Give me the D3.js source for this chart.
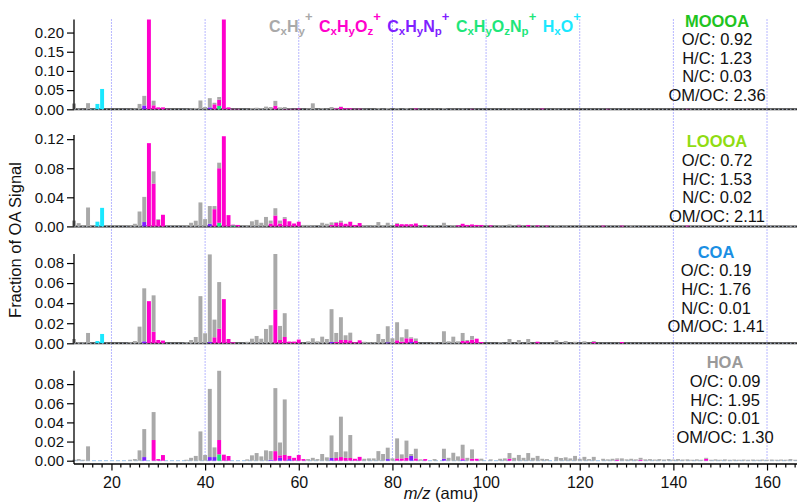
<!DOCTYPE html>
<html>
<head>
<meta charset="utf-8">
<script src="https://cdn.jsdelivr.net/npm/d3@7"></script>
<style>
  body { margin: 0; background: #fff; }
  svg { display: block; font-family: "Liberation Sans", Arial, Helvetica, sans-serif; }
</style>
</head>
<body>
<svg id="chart" width="798" height="504"></svg>
<script>
// ---- Ion families (legend order) and the order they are stacked in (bottom first)
const families = ["CxHy", "CxHyOz", "CxHyNp", "CxHyOzNp", "HxO"];
const stackOrder = ["HxO", "CxHyOzNp", "CxHyNp", "CxHyOz", "CxHy"];
const familyColors = ["#a9a9a9", "#ff00cc", "#7f1fff", "#1ee67a", "#1ae8ff"];

// ---- PMF factor names and elemental ratios
const factorNames = ["MOOOA", "LOOOA", "COA", "HOA"];
const factorColors = ["#1fc41f", "#8fdc12", "#1a8fe3", "#9a9a9a"];
const ratioOC = [0.92, 0.72, 0.19, 0.09];
const ratioHC = [1.23, 1.53, 1.76, 1.95];
const ratioNC = [0.03, 0.02, 0.01, 0.01];
const ratioOMOC = [2.36, 2.11, 1.41, 1.30];

// ---- y-axis tick values per factor
const yTicks = [
  [0, 0.05, 0.10, 0.15, 0.20],
  [0, 0.04, 0.08, 0.12],
  [0, 0.02, 0.04, 0.06, 0.08],
  [0, 0.02, 0.04, 0.06, 0.08]
];
const yMax = [0.234, 0.1257, 0.089, 0.094];
const xMajorTicks = [20, 40, 60, 80, 100, 120, 140, 160];

// ---- Spectra: [m/z, fraction of OA signal] per ion family
const MOOOA_CxHy = [[12,.015],[13,.002],[14,.001],[15,.016],[24,.001],[25,.002],[26,.014],[27,.025],[29,.012],[36,.001],[37,.002],[38,.0035],[39,.023],[40,.006],[41,.024],[42,.004],[43,.007],[49,.001],[50,.003],[51,.004],[52,.003],[53,.007],[54,.006],[55,.013],[56,.005],[57,.005],[58,.001],[62,.002],[63,.0156],[64,.001],[65,.0026],[66,.0015],[67,.006],[68,.001],[69,.001],[74,.001],[77,.0026],[78,.001],[79,.003],[81,.0026],[83,.0026],[89,.001],[91,.0026],[93,.001],[95,.0012],[105,.0012],[107,.001],[115,.001]];
const MOOOA_CxHyOz = [[28,.25],[29,.0104],[30,.005],[31,.005],[32,.001],[42,.013],[43,.016],[44,.25],[45,.005],[46,.001],[47,.001],[55,.009],[57,.001],[58,.001],[59,.001],[60,.002],[68,.0026],[69,.006],[70,.0026],[71,.0026],[72,.001],[73,.0015],[85,.002],[97,.001],[112,.0018],[126,.001],[143,.001]];
const MOOOA_CxHyNp = [[27,.010],[41,.005]];
const MOOOA_CxHyOzNp = [[43,.009]];
const MOOOA_HxO = [[16,.001],[17,.014],[18,.053]];

const LOOOA_CxHy = [[12,.008],[13,.0045],[14,.001],[15,.026],[24,.001],[25,.0036],[26,.0205],[27,.0346],[29,.0168],[30,.001],[36,.001],[37,.005],[38,.0078],[39,.033],[40,.010],[41,.0243],[42,.0043],[43,.0076],[49,.001],[50,.007],[51,.009],[52,.005],[53,.013],[54,.004],[55,.010],[56,.004],[57,.0023],[61,.002],[62,.002],[63,.001],[65,.005],[66,.0036],[67,.0035],[68,.001],[69,.0023],[74,.0018],[75,.001],[76,.0018],[77,.006],[78,.0018],[79,.005],[81,.001],[89,.0014],[91,.005],[93,.0018],[103,.0014],[105,.0027],[107,.001],[115,.0018],[117,.001],[121,.001],[131,.001],[165,.001]];
const LOOOA_CxHyOz = [[28,.1145],[29,.0589],[30,.009],[31,.016],[42,.0237],[43,.075],[44,.124],[45,.0155],[46,.001],[47,.002],[54,.004],[55,.015],[56,.004],[57,.0105],[58,.007],[59,.004],[60,.0064],[67,.002],[68,.005],[69,.0055],[70,.0036],[71,.0064],[72,.002],[73,.0046],[81,.0036],[82,.003],[83,.003],[84,.003],[85,.004],[87,.002],[94,.0014],[95,.0036],[96,.002],[97,.0027],[98,.002],[99,.002],[101,.0014],[107,.0014],[109,.002],[111,.0014],[113,.001],[125,.001],[129,.001],[143,.001]];
const LOOOA_CxHyNp = [[27,.006],[41,.0037]];
const LOOOA_CxHyOzNp = [[43,.005],[46,.0014]];
const LOOOA_HxO = [[17,.0065],[18,.0255]];

const COA_CxHy = [[12,.0043],[13,.001],[14,.001],[15,.0103],[24,.001],[25,.0023],[26,.0166],[27,.0528],[29,.0362],[36,.001],[37,.0033],[38,.0063],[39,.047],[40,.010],[41,.0873],[42,.0176],[43,.0464],[49,.0015],[50,.0046],[51,.0073],[52,.0046],[53,.0143],[54,.018],[55,.056],[56,.014],[57,.0237],[62,.002],[63,.005],[64,.002],[65,.0066],[66,.0043],[67,.0327],[68,.009],[69,.0227],[70,.0047],[71,.0076],[74,.0015],[75,.001],[76,.001],[77,.0093],[78,.0043],[79,.016],[80,.005],[81,.018],[82,.0043],[83,.009],[84,.0012],[85,.0025],[89,.001],[91,.012],[92,.002],[93,.0066],[94,.002],[95,.008],[96,.001],[97,.0037],[103,.001],[105,.0043],[107,.0033],[109,.0043],[115,.003],[117,.0023],[119,.0015],[121,.002],[123,.001]];
const COA_CxHyOz = [[28,.042],[29,.0116],[30,.0033],[31,.0027],[42,.006],[43,.0146],[44,.044],[45,.0043],[46,.001],[55,.0335],[56,.0033],[57,.0063],[58,.0017],[59,.0017],[60,.0037],[68,.0013],[69,.0033],[70,.0033],[71,.003],[72,.001],[73,.003],[81,.003],[82,.0017],[83,.005],[84,.0035],[85,.0023],[95,.0023],[96,.0023],[97,.0036],[98,.0046],[99,.0013],[111,.0016],[123,.0013],[129,.0013]];
const COA_CxHyNp = [[27,.002],[41,.0013],[67,.0013],[79,.001],[84,.0013]];
const COA_CxHyOzNp = [];
const COA_HxO = [[17,.0023],[18,.0093]];

const HOA_CxHy = [[12,.001],[13,.0017],[14,.001],[15,.015],[24,.001],[25,.0017],[26,.0108],[27,.0292],[29,.0292],[36,.001],[37,.003],[38,.005],[39,.0306],[40,.006],[41,.0712],[42,.0101],[43,.073],[49,.0014],[50,.0056],[51,.008],[52,.0045],[53,.0108],[54,.009],[55,.0658],[56,.0134],[57,.058],[62,.0017],[63,.003],[64,.0017],[65,.007],[66,.0035],[67,.0236],[68,.0062],[69,.0422],[70,.0067],[71,.024],[74,.002],[75,.0024],[76,.0024],[77,.010],[78,.007],[79,.0119],[80,.0024],[81,.0209],[82,.0042],[83,.018],[84,.002],[85,.0101],[86,.0014],[89,.0017],[91,.0105],[92,.003],[93,.0083],[94,.0045],[95,.0143],[96,.003],[97,.0098],[99,.0021],[101,.0014],[103,.002],[104,.0024],[105,.006],[106,.003],[107,.006],[108,.003],[109,.008],[110,.003],[111,.005],[112,.002],[113,.0017],[115,.004],[116,.0028],[117,.0035],[118,.0024],[119,.005],[120,.002],[121,.004],[122,.0017],[123,.004],[125,.002],[126,.0014],[127,.002],[128,.0014],[129,.0024],[130,.0014],[131,.002],[132,.0014],[133,.002],[134,.0014],[135,.0017],[136,.0012],[137,.0017],[138,.0012],[139,.0017],[140,.0012],[141,.0017],[142,.0012],[143,.0014],[144,.001],[145,.0014],[146,.001],[147,.001],[148,.001],[149,.0014],[150,.001],[151,.0014],[152,.001],[153,.0012],[154,.001],[155,.0012],[156,.001],[157,.0012],[158,.001],[159,.0012],[160,.001],[161,.0012],[162,.001],[163,.0012],[164,.001],[165,.0017],[166,.001]];
const HOA_CxHyOz = [[29,.0216],[30,.0017],[31,.0059],[43,.015],[44,.0063],[45,.0049],[55,.010],[56,.0026],[57,.006],[58,.0033],[59,.003],[60,.006],[61,.0017],[68,.0028],[69,.0038],[70,.003],[71,.0028],[72,.002],[73,.004],[81,.0024],[82,.0024],[83,.003],[85,.0024],[87,.0017],[95,.0014],[97,.002],[98,.002],[105,.002],[128,.001],[133,.001],[147,.002]];
const HOA_CxHyNp = [[27,.0038],[41,.0038],[42,.0038],[54,.001],[56,.003],[58,.0017],[67,.0028],[79,.0017],[84,.005],[91,.002],[95,.001]];
const HOA_CxHyOzNp = [[43,.0066]];
const HOA_HxO = [];

const spectra = [
  [MOOOA_CxHy, MOOOA_CxHyOz, MOOOA_CxHyNp, MOOOA_CxHyOzNp, MOOOA_HxO],
  [LOOOA_CxHy, LOOOA_CxHyOz, LOOOA_CxHyNp, LOOOA_CxHyOzNp, LOOOA_HxO],
  [COA_CxHy, COA_CxHyOz, COA_CxHyNp, COA_CxHyOzNp, COA_HxO],
  [HOA_CxHy, HOA_CxHyOz, HOA_CxHyNp, HOA_CxHyOzNp, HOA_HxO]
];

// ---- layout
const W = 798, H = 504;
const plotLeft = 74, plotRight = 797;
const panelTop = [19.5, 135, 254, 370.7];
const panelZero = [109.3, 226.4, 343.3, 460.7];
const labelX = [717, 717, 716, 725];
const labelY0 = [26.5, 147.3, 257.7, 368.3];
const labelStep = 18.6;
const xAxisY = 464;

const svg = d3.select("#chart");
const x = d3.scaleLinear().domain([12, 166.4]).range([plotLeft, plotRight]);
const barW = x(0.84) - x(0);
const colorOf = d3.scaleOrdinal().domain(families).range(familyColors);

// vertical dotted guides every 20 amu
svg.append("g").selectAll("line").data(xMajorTicks).join("line")
  .attr("x1", d => x(d)).attr("x2", d => x(d))
  .attr("y1", panelTop[0]).attr("y2", panelZero[3])
  .attr("stroke", "#6f6fff").attr("stroke-width", 1)
  .attr("stroke-dasharray", "1,2");

const defs = svg.append("defs");

factorNames.forEach((name, i) => {
  const y = d3.scaleLinear().domain([0, yMax[i]]).range([panelZero[i], panelTop[i]]);

  // table of m/z rows with one column per ion family
  const rows = d3.range(12, 167).map(mz => {
    const r = { mz };
    families.forEach(f => r[f] = 0);
    return r;
  });
  families.forEach((f, k) => spectra[i][k].forEach(([mz, v]) => { rows[mz - 12][f] = v; }));
  const layers = d3.stack().keys(stackOrder)(rows);

  defs.append("clipPath").attr("id", "clip" + i)
    .append("rect").attr("x", 60).attr("width", W - 60)
    .attr("y", panelTop[i]).attr("height", panelZero[i] - panelTop[i] + 0.5);

  const g = svg.append("g");

  // zero line of the panel
  if (i < 3) {
    g.append("line").attr("x1", plotLeft).attr("x2", plotRight)
      .attr("y1", panelZero[i]).attr("y2", panelZero[i])
      .attr("stroke", "#2b2b2b").attr("stroke-width", 2);
    g.append("line").attr("x1", plotLeft).attr("x2", plotRight)
      .attr("y1", panelZero[i]).attr("y2", panelZero[i])
      .attr("stroke", "#a8b4c8").attr("stroke-width", 1)
      .attr("stroke-dasharray", "1.5,2.5");
  } else {
    g.append("line").attr("x1", plotLeft).attr("x2", plotRight)
      .attr("y1", panelZero[i]).attr("y2", panelZero[i])
      .attr("stroke", "#9cc2ea").attr("stroke-width", 1)
      .attr("stroke-dasharray", "4,2");
  }

  // stacked bars
  const bars = g.append("g").attr("clip-path", `url(#clip${i})`);
  layers.forEach(layer => {
    bars.append("g").attr("fill", colorOf(layer.key))
      .selectAll("rect").data(layer.filter(d => d[1] - d[0] > 0)).join("rect")
      .attr("x", d => x(d.data.mz) - barW / 2)
      .attr("width", barW)
      .attr("y", d => y(d[1]))
      .attr("height", d => y(d[0]) - y(d[1]));
  });

  // y axis
  const ax = g.append("g").attr("transform", `translate(${plotLeft},0)`)
    .call(d3.axisLeft(y).tickValues(yTicks[i]).tickFormat(d3.format(".2f"))
      .tickSize(7).tickSizeOuter(0).tickPadding(3));
  ax.select(".domain").remove();
  ax.selectAll(".tick line").attr("stroke", "#000").attr("stroke-width", 1.2);
  ax.selectAll(".tick text").attr("font-size", 15).attr("fill", "#111")
    .attr("font-family", "Liberation Sans, Arial, sans-serif");
  g.append("line").attr("x1", plotLeft).attr("x2", plotLeft)
    .attr("y1", panelTop[i]).attr("y2", i === 3 ? xAxisY : panelZero[i])
    .attr("stroke", "#000").attr("stroke-width", 1.3);

  // factor name and elemental ratios
  const lines = [
    name,
    "O/C: " + ratioOC[i].toFixed(2),
    "H/C: " + ratioHC[i].toFixed(2),
    "N/C: " + ratioNC[i].toFixed(2),
    "OM/OC: " + ratioOMOC[i].toFixed(2)
  ];
  g.append("g").selectAll("text").data(lines).join("text")
    .attr("x", labelX[i])
    .attr("y", (d, k) => labelY0[i] + k * labelStep)
    .attr("text-anchor", "middle")
    .attr("font-size", 16.5)
    .attr("font-weight", (d, k) => k === 0 ? "bold" : "normal")
    .attr("fill", (d, k) => k === 0 ? factorColors[i] : "#111")
    .text(d => d);
});

// bottom m/z axis
const xAxis = svg.append("g").attr("transform", `translate(0,${xAxisY})`);
xAxis.append("line").attr("x1", plotLeft).attr("x2", plotRight)
  .attr("stroke", "#000").attr("stroke-width", 1.3);
const minorTicks = d3.range(14, 167, 2).filter(v => v % 20 !== 0);
xAxis.append("g").selectAll("line").data(minorTicks).join("line")
  .attr("x1", d => x(d)).attr("x2", d => x(d)).attr("y1", 0).attr("y2", 3.5)
  .attr("stroke", "#000").attr("stroke-width", 1.2);
const xa = xAxis.append("g")
  .call(d3.axisBottom(x).tickValues(xMajorTicks).tickFormat(d3.format("d"))
    .tickSize(6.5).tickSizeOuter(0).tickPadding(6));
xa.select(".domain").remove();
xa.selectAll(".tick line").attr("stroke", "#000").attr("stroke-width", 1.2);
xa.selectAll(".tick text").attr("font-size", 16).attr("fill", "#111")
  .attr("font-family", "Liberation Sans, Arial, sans-serif");

// axis titles
const xt = svg.append("text").attr("x", 441).attr("y", 499)
  .attr("text-anchor", "middle").attr("font-size", 16.5).attr("fill", "#111");
xt.append("tspan").attr("font-style", "italic").text("m/z");
xt.append("tspan").text(" (amu)");

svg.append("text")
  .attr("transform", "translate(21,240) rotate(-90)")
  .attr("text-anchor", "middle").attr("font-size", 16.5).attr("fill", "#111")
  .text("Fraction of OA Signal");

// legend of ion families with sub- and superscripts
const legendParts = [
  [["C", 0], ["x", 1], ["H", 0], ["y", 1], ["+", 2]],
  [["C", 0], ["x", 1], ["H", 0], ["y", 1], ["O", 0], ["z", 1], ["+", 2]],
  [["C", 0], ["x", 1], ["H", 0], ["y", 1], ["N", 0], ["p", 1], ["+", 2]],
  [["C", 0], ["x", 1], ["H", 0], ["y", 1], ["O", 0], ["z", 1], ["N", 0], ["p", 1], ["+", 2]],
  [["H", 0], ["x", 1], ["O", 0], ["+", 2]]
];
const shiftFor = [0, 3.5, -11];
const sizeFor = [16, 11.5, 13];
let lx = 269;
legendParts.forEach((parts, k) => {
  const t = svg.append("text").attr("x", lx).attr("y", 31.7)
    .attr("font-weight", "bold").attr("fill", familyColors[k]);
  let cur = 0;
  parts.forEach(([s, kind]) => {
    t.append("tspan").attr("dy", shiftFor[kind] - cur)
      .attr("font-size", sizeFor[kind]).text(s);
    cur = shiftFor[kind];
  });
  lx += t.node().getComputedTextLength() + 6.5;
});
</script>
</body>
</html>
